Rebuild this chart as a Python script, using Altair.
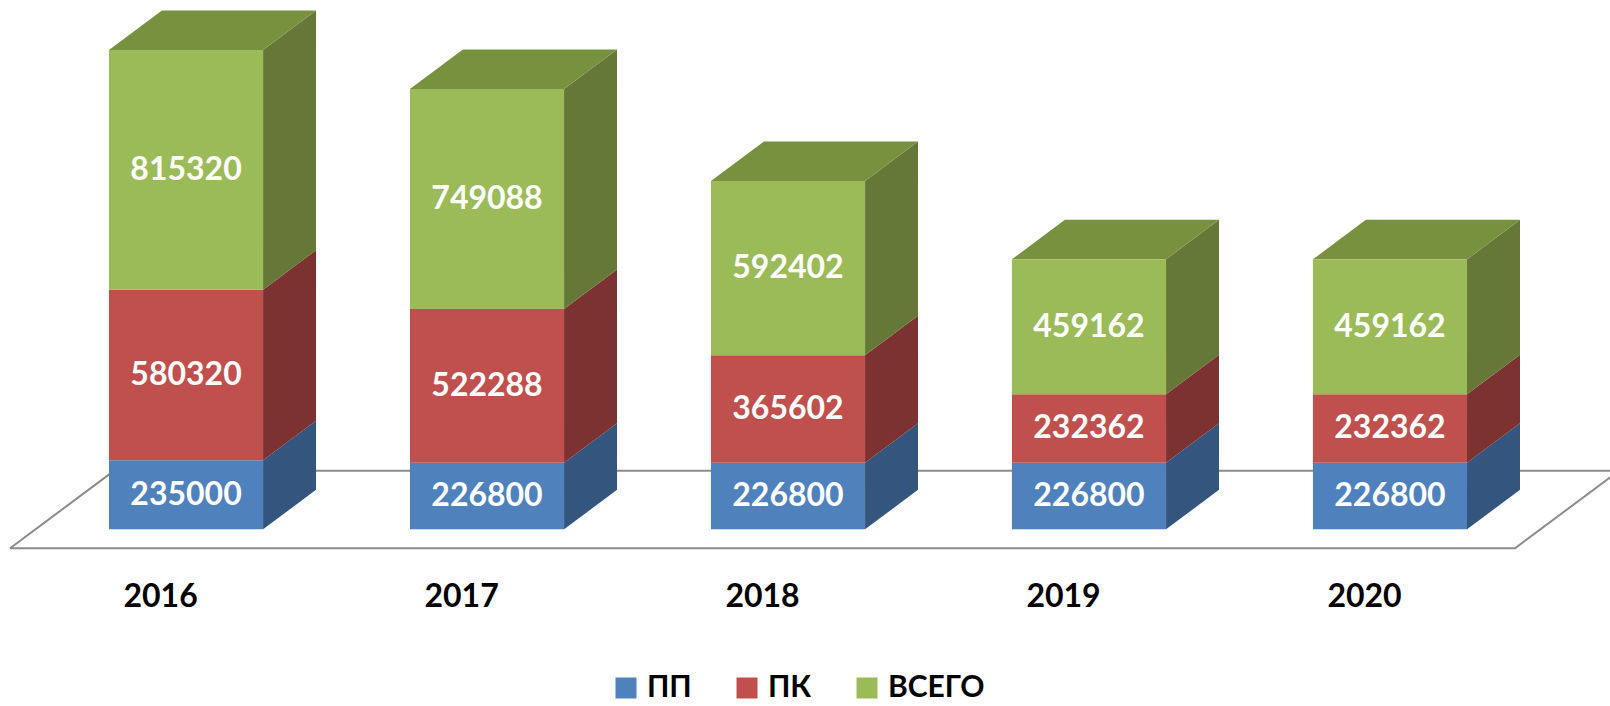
import altair as alt
import pandas as pd

# ---- data ----
years = ["2016", "2017", "2018", "2019", "2020"]
series = ["ПП", "ПК", "ВСЕГО"]
pp = [235000, 226800, 226800, 226800, 226800]
pk = [580320, 522288, 365602, 232362, 232362]
vsego = [815320, 749088, 592402, 459162, 459162]

# ---- style ----
front_colors = ["#4F81BD", "#C0504D", "#9BBB59"]
side_colors = ["#34557E", "#7B3230", "#657838"]
top_color = "#78913F"
floor_color = "#8C8C8C"
FONT = "Lato"

W, H = 1610, 706
HALF = 0.256          # half bar width (category units)
DX = 0.176            # depth projection, x (category units per depth)
DY = 134400           # depth projection, y (value units per depth)
FLOOR_FRONT = -0.48   # floor depth extent relative to bar depth [0, 1]
FLOOR_BACK = 1.48
YEAR_LABEL_Y = -230000

x_scale = alt.Scale(domain=[-0.618, 4.731], nice=False, zero=False)
y_scale = alt.Scale(domain=[-601134, 1800679], nice=False, zero=False)

front_rows, side_rows, top_rows = [], [], []
for i, yr in enumerate(years):
    base = 0
    for s, vals, sc in zip(series, [pp, pk, vsego], side_colors):
        v = vals[i]
        lo, hi = base, base + v
        front_rows.append(dict(year=yr, series=s, x=i - HALF, x2=i + HALF,
                               y=lo, y2=hi, xm=i, ym=(lo + hi) / 2, label=str(v)))
        sid = f"{yr}-{s}"
        side_rows.append(dict(id=sid, x=i + HALF, y=lo, y2=hi, fill=sc))
        side_rows.append(dict(id=sid, x=i + HALF + DX, y=lo + DY, y2=hi + DY, fill=sc))
        base = hi
    top_rows.append(dict(id=yr, y=base, x=i - HALF, x2=i + HALF))
    top_rows.append(dict(id=yr, y=base + DY, x=i - HALF + DX, x2=i + HALF + DX))

floor_rows = [
    dict(o=0, x=-0.5 + FLOOR_FRONT * DX, y=FLOOR_FRONT * DY),
    dict(o=1, x=len(years) - 0.5 + FLOOR_FRONT * DX, y=FLOOR_FRONT * DY),
    dict(o=2, x=len(years) - 0.5 + FLOOR_BACK * DX, y=FLOOR_BACK * DY),
    dict(o=3, x=-0.5 + FLOOR_BACK * DX, y=FLOOR_BACK * DY),
    dict(o=4, x=-0.5 + FLOOR_FRONT * DX, y=FLOOR_FRONT * DY),
]
year_rows = [dict(year=yr, x=i + FLOOR_FRONT * DX, y=YEAR_LABEL_Y) for i, yr in enumerate(years)]

front_df = pd.DataFrame(front_rows)
side_df = pd.DataFrame(side_rows)
top_df = pd.DataFrame(top_rows)
floor_df = pd.DataFrame(floor_rows)
year_df = pd.DataFrame(year_rows)

floor = alt.Chart(floor_df).mark_line(color=floor_color, strokeWidth=2, clip=True).encode(
    x=alt.X("x:Q", scale=x_scale, axis=None),
    y=alt.Y("y:Q", scale=y_scale, axis=None),
    order="o:Q",
)

sides = alt.Chart(side_df).mark_area(orient="vertical", interpolate="linear").encode(
    x=alt.X("x:Q", scale=x_scale, axis=None),
    y=alt.Y("y:Q", scale=y_scale, axis=None, stack=None),
    y2="y2:Q",
    fill=alt.Fill("fill:N", scale=None),
    detail="id:N",
)

tops = alt.Chart(top_df).mark_area(orient="horizontal", interpolate="linear", color=top_color).encode(
    y=alt.Y("y:Q", scale=y_scale, axis=None),
    x=alt.X("x:Q", scale=x_scale, axis=None, stack=None),
    x2="x2:Q",
    detail="id:N",
)

fronts = alt.Chart(front_df).mark_rect().encode(
    x=alt.X("x:Q", scale=x_scale, axis=None),
    x2="x2:Q",
    y=alt.Y("y:Q", scale=y_scale, axis=None),
    y2="y2:Q",
    color=alt.Color(
        "series:N",
        scale=alt.Scale(domain=series, range=front_colors),
        legend=alt.Legend(
            title=None, orient="none", legendX=611, legendY=673,
            direction="horizontal", symbolType="square", symbolSize=441,
            symbolStrokeWidth=0, labelFontSize=30, labelFont=FONT,
            labelFontWeight="bold", labelColor="black", labelOffset=6,
            columnPadding=40, padding=0,
        ),
    ),
)

labels = alt.Chart(front_df).mark_text(
    font=FONT, fontWeight="bold", fontSize=32, color="white",
    align="center", baseline="middle",
).encode(
    x=alt.X("xm:Q", scale=x_scale, axis=None),
    y=alt.Y("ym:Q", scale=y_scale, axis=None),
    text="label:N",
)

year_text = alt.Chart(year_df).mark_text(
    font=FONT, fontWeight="bold", fontSize=32, color="black",
    align="center", baseline="middle",
).encode(
    x=alt.X("x:Q", scale=x_scale, axis=None),
    y=alt.Y("y:Q", scale=y_scale, axis=None),
    text="year:N",
)

chart = alt.layer(floor, sides, tops, fronts, labels, year_text).properties(
    width=W, height=H, autosize=alt.AutoSizeParams(type="none"), padding=0,
    background="white",
).configure_view(stroke=None)

chart.save("out.html", embed_options={"renderer": "svg", "actions": False})
